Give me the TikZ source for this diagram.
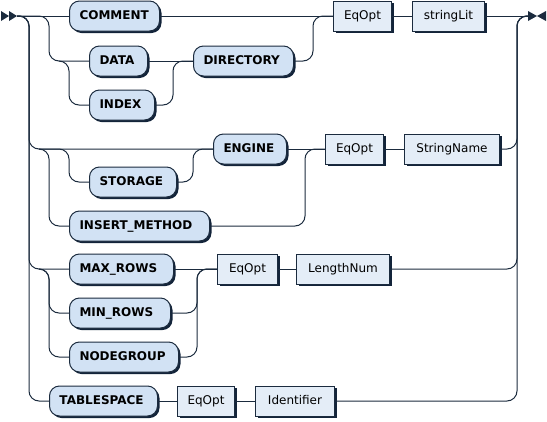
\documentclass[tikz,border=0pt]{standalone}
\usepackage{fontspec}
\setmainfont{DejaVu Sans}
\usetikzlibrary{positioning, shadows}
\definecolor{lcolor}{HTML}{1B2B3E}
\definecolor{tcolor}{HTML}{D2E2F4}
\definecolor{ncolor}{HTML}{E4EDF7}
\definecolor{scolor}{HTML}{13243A}

\begin{document}
\begin{tikzpicture}[x=1pt, y=-1pt,
    term/.style={rectangle, draw=lcolor, fill=tcolor, rounded corners=10pt, minimum height=30pt, inner xsep=10pt, text height=9pt, text depth=2pt, font=\fontsize{12}{14}\selectfont\bfseries, line width=1pt, drop shadow={shadow xshift=2pt, shadow yshift=-2pt, fill=scolor, opacity=1}},
    tw/.style={text width=#1, align=left},
    nterm/.style={term, sharp corners, inner xsep=8pt, fill=ncolor, font=\fontsize{12}{14}\selectfont},
    wire/.style={draw=lcolor, line width=1pt},
    rr/.style={wire, rounded corners=10pt},
  ]
    \useasboundingbox (0,0) rectangle (547,421);

    \coordinate (start) at (17,16);
    \coordinate (finish) at (528,16);
    \coordinate (ca) at (29,16);
    \coordinate (cb) at (49,16);
    \coordinate (cc) at (69,16);
    \coordinate (cz) at (517,16);

    \node[term, anchor=west, tw=70pt] (comment) at (69,16) {COMMENT};
    \node[term, anchor=west, tw=38pt] (data) at (89,61) {DATA};
    \node[term, anchor=west, tw=45pt] (index) at (89,105) {INDEX};
    \node[term, anchor=west, tw=80pt] (directory) at (193,61) {DIRECTORY};
    \node[nterm, anchor=west, minimum width=58pt] (eqa) at (333,16) {EqOpt};
    \node[nterm, right=20pt of eqa, minimum width=72pt] (strlit) {stringLit};

    \node[term, anchor=west, tw=53pt] (engine) at (213,149) {ENGINE};
    \node[term, anchor=west, tw=67pt] (storage) at (89,182) {STORAGE};
    \node[term, anchor=west, tw=120pt] (insert) at (69,226) {INSERT\_METHOD};
    \node[nterm, anchor=west, minimum width=58pt] (eqb) at (325,149) {EqOpt};
    \node[nterm, right=20pt of eqb, minimum width=95pt] (strname) {StringName};

    \node[term, anchor=west, tw=84pt] (maxrows) at (69,269) {MAX\_ROWS};
    \node[term, anchor=west, tw=81pt] (minrows) at (69,313) {MIN\_ROWS};
    \node[term, anchor=west, tw=89pt] (nodegroup) at (69,357) {NODEGROUP};
    \node[nterm, anchor=west, minimum width=60pt] (eqc) at (217,269) {EqOpt};
    \node[nterm, right=18pt of eqc, minimum width=93pt] (lennum) {LengthNum};

    \node[term, anchor=west, tw=88pt] (tblspace) at (49,401) {TABLESPACE};
    \node[nterm, right=19pt of tblspace, minimum width=57pt] (eqd) {EqOpt};
    \node[nterm, right=20pt of eqd, minimum width=79pt] (ident) {Identifier};

    % start and end markers
    \fill[lcolor] (1,11) -- (9,16) -- (1,21) -- cycle;
    \fill[lcolor] (9,11) -- (17,16) -- (9,21) -- cycle;
    \fill[lcolor] (528,11) -- (537,16) -- (528,21) -- cycle;
    \fill[lcolor] (546,11) -- (537,16) -- (546,21) -- cycle;

    % first group
    \draw[wire] (start) -- (comment.west);
    \draw[wire] (comment.east) -- (eqa.west);
    \draw[wire] (eqa.east) -- (strlit.west);
    \draw[wire] (strlit.east) -- (finish);
    \draw[rr] (start) -| (cb |- data.west) -- (data.west);
    \draw[rr] ([xshift=10pt]cb |- data.west) -| (cc |- index.west) -- (index.west);
    \draw[wire] (data.east) -- (directory.west);
    \draw[rr] (index.east) -| ([xshift=-20pt]directory.west) -- (directory.west);
    \draw[rr] (directory.east) -| ([xshift=-20pt]eqa.west) -- (eqa.west);

    % second group
    \draw[rr] (start) -| (ca |- engine.west) -- (engine.west);
    \draw[rr] ([xshift=10pt]ca |- engine.west) -| (cb |- insert.west) -- (insert.west);
    \draw[rr] ([xshift=10pt]ca |- engine.west) -| (cc |- storage.west) -- (storage.west);
    \draw[rr] (storage.east) -| ([xshift=-20pt]engine.west) -- (engine.west);
    \draw[wire] (engine.east) -- (eqb.west);
    \draw[rr] (insert.east) -| ([xshift=-20pt]eqb.west) -- (eqb.west);
    \draw[wire] (eqb.east) -- (strname.west);
    \draw[rr] (strname.east) -| (cz) -- (finish);

    % third group
    \draw[rr] (start) -| (ca |- maxrows.west) -- (maxrows.west);
    \draw[rr] ([xshift=10pt]ca |- maxrows.west) -| (cb |- minrows.west) -- (minrows.west);
    \draw[rr] ([xshift=10pt]ca |- maxrows.west) -| (cb |- nodegroup.west) -- (nodegroup.west);
    \draw[wire] (maxrows.east) -- (eqc.west);
    \draw[rr] (minrows.east) -| ([xshift=-20pt]eqc.west) -- (eqc.west);
    \draw[rr] (nodegroup.east) -| ([xshift=-20pt]eqc.west) -- (eqc.west);
    \draw[wire] (eqc.east) -- (lennum.west);
    \draw[rr] (lennum.east) -| (cz) -- (finish);

    % fourth group
    \draw[rr] (start) -| (ca |- tblspace.west) -- (tblspace.west);
    \draw[wire] (tblspace.east) -- (eqd.west);
    \draw[wire] (eqd.east) -- (ident.west);
    \draw[rr] (ident.east) -| (cz) -- (finish);
\end{tikzpicture}
\end{document}
